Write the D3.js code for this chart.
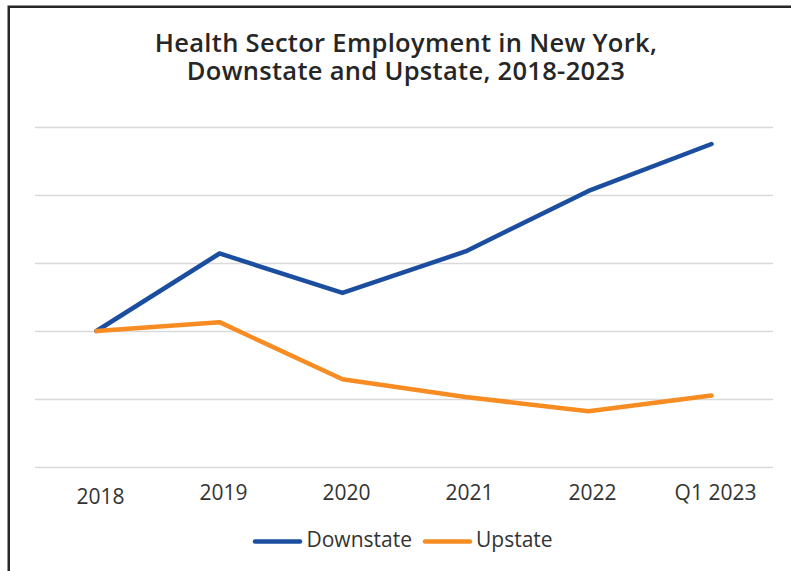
<!DOCTYPE html>
<html>
<head>
<meta charset="utf-8">
<script src="https://cdn.jsdelivr.net/npm/d3@7/dist/d3.min.js"></script>
<style>
  html, body { margin: 0; padding: 0; background: #fff; }
  svg { display: block; }
  text { font-family: "Open Sans", "Noto Sans", sans-serif; }
</style>
</head>
<body>
<svg id="chart" width="791" height="571"></svg>
<script>
// ---- data ----
const categories = ["2018", "2019", "2020", "2021", "2022", "Q1 2023"];
const downstate = [0, 5.7, 2.8, 5.85, 10.3, 13.75];   // % change since 2018 (estimated)
const upstate   = [0, 0.65, -3.55, -4.85, -5.9, -4.75];
const yTicks = [-10, -5, 0, 5, 10, 15];
const seriesNames = ["Downstate", "Upstate"];
const seriesColors = ["#1c4ea0", "#f78c22"];
const titleLines = ["Health Sector Employment in New York,", "Downstate and Upstate, 2018-2023"];

const svg = d3.select("#chart");
const W = 791, H = 571;

// frame (extends beyond right/bottom edge)
svg.append("rect")
  .attr("x", 8.75).attr("y", 6.75)
  .attr("width", W + 20).attr("height", H + 20)
  .attr("fill", "#fff").attr("stroke", "#262626").attr("stroke-width", 2.5);

const x = d3.scalePoint().domain(categories).range([35, 773]).padding(0.5);
const y = d3.scaleLinear().domain([-10, 15]).range([467, 127]);

// gridlines
const grid = svg.append("g").attr("transform", "translate(35,0)")
  .call(d3.axisLeft(y).tickValues(yTicks).tickSize(-(773 - 35)).tickFormat(""));
grid.select(".domain").remove();
grid.selectAll(".tick line").attr("stroke", "#d9d9d9").attr("stroke-width", 1.6);

// x axis labels
const xa = svg.append("g").attr("transform", "translate(0,467)")
  .call(d3.axisBottom(x).tickSize(0).tickPadding(0));
xa.select(".domain").remove();
xa.selectAll(".tick text")
  .attr("font-size", 21).attr("fill", "#333").attr("font-family", "'Open Sans', sans-serif")
  .attr("dy", null).attr("y", (d, i) => i === 0 ? 36.5 : 33.3)
  .attr("x", 3.5);

// lines
const line = d3.line().x((d, i) => x(categories[i])).y(d => y(d));
[downstate, upstate].forEach((vals, k) => {
  svg.append("path").datum(vals)
    .attr("d", line)
    .attr("fill", "none")
    .attr("stroke", seriesColors[k])
    .attr("stroke-width", 4.5)
    .attr("stroke-linejoin", "round")
    .attr("stroke-linecap", "round");
});

// title (separate text elements per line)
svg.selectAll("text.title").data(titleLines).join("text")
  .attr("class", "title")
  .attr("x", 406).attr("y", (d, i) => 52.3 + i * 28)
  .attr("text-anchor", "middle")
  .attr("font-size", 25.5).attr("font-weight", 600).attr("fill", "#262626")
  .attr("letter-spacing", 0.3)
  .text(d => d);

// legend
const legendItems = [
  { name: seriesNames[0], color: seriesColors[0], x0: 255, tx: 306.5 },
  { name: seriesNames[1], color: seriesColors[1], x0: 425, tx: 476 }
];
const lg = svg.append("g");
legendItems.forEach(it => {
  lg.append("line")
    .attr("x1", it.x0).attr("x2", it.x0 + 45)
    .attr("y1", 541.5).attr("y2", 541.5)
    .attr("stroke", it.color).attr("stroke-width", 4.5).attr("stroke-linecap", "round");
  lg.append("text")
    .attr("x", it.tx).attr("y", 546.8)
    .attr("font-size", 21).attr("fill", "#333")
    .text(it.name);
});
</script>
</body>
</html>
